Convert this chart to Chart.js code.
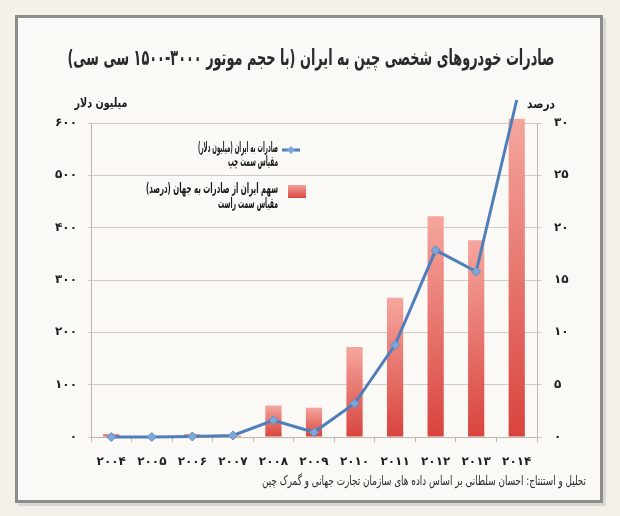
<!DOCTYPE html>
<html><head><meta charset="utf-8">
<script src="https://cdn.jsdelivr.net/npm/chart.js@4.4.0/dist/chart.umd.min.js"></script>
<style>html,body{margin:0;padding:0;background:#f4f1eb;overflow:hidden}#wrap{width:620px;height:516px;position:relative}</style>
</head><body><div id="wrap"><canvas id="c" width="620" height="516"></canvas></div>
<script>
const years = ['2004','2005','2006','2007','2008','2009','2010','2011','2012','2013','2014'];
const exportsMusd = [0, 0, 1, 3, 32, 9, 64, 176, 357, 316, 644];
const sharePct = [0.3, 0.1, 0.3, 0.15, 3.0, 2.8, 8.6, 13.3, 21.1, 18.8, 30.4];
const leftTicks = [0, 100, 200, 300, 400, 500, 600];
const rightTicks = [0, 5, 10, 15, 20, 25, 30];
const titleText = 'صادرات خودروهای شخصی چین به ایران (با حجم موتور ۳۰۰۰-۱۵۰۰ سی سی)';
const leftAxisTitle = 'میلیون دلار';
const rightAxisTitle = 'درصد';
const legendLine = ['صادرات به ایران (میلیون دلار)', 'مقیاس سمت چپ'];
const legendBar = ['سهم ایران از صادرات به جهان (درصد)', 'مقیاس سمت راست'];
const footerText = 'تحلیل و استنتاج: احسان سلطانی بر اساس داده های سازمان تجارت جهانی و گمرک چین';

const FONT = '"DejaVu Sans", sans-serif';
const fa = s => String(s).replace(/\d/g, d => '۰۱۲۳۴۵۶۷۸۹'[d]);
const LINE_COLOR = '#4f7fbb';

// draw RTL text squeezed horizontally to a target width
function fitText(c, text, x, y, width, font, align) {
  c.save();
  c.font = font;
  c.direction = 'rtl';
  c.textAlign = align;
  c.textBaseline = 'middle';
  const w = c.measureText(text).width;
  const sx = Math.min(1, width / w);
  c.translate(x, y);
  c.scale(sx, 1);
  c.fillText(text, 0, 0);
  c.restore();
}

const framePlugin = {
  id: 'frame',
  beforeDraw(chart) {
    const c = chart.ctx;
    c.save();
    c.fillStyle = '#f4f1eb';
    c.fillRect(0, 0, chart.width, chart.height);
    c.fillStyle = 'rgba(0,0,0,0.10)';
    c.fillRect(18, 18, 588, 488);
    c.fillStyle = '#fbf9f5';
    c.fillRect(15, 15, 588, 488);
    c.strokeStyle = '#8d8d8d';
    c.lineWidth = 3;
    c.strokeRect(16.5, 16.5, 585, 485);
    c.restore();
  },
  afterDraw(chart) {
    const c = chart.ctx;
    c.save();
    c.fillStyle = '#2b2b2b';
    fitText(c, titleText, 311, 59, 487, 'bold 22px ' + FONT, 'center');
    c.fillStyle = '#1a1a1a';
    fitText(c, leftAxisTitle, 101, 104, 53, 'bold 13px ' + FONT, 'center');
    fitText(c, rightAxisTitle, 541, 105, 28, 'bold 13px ' + FONT, 'center');
    // legend texts
    fitText(c, legendLine[0], 278, 148, 80, 'bold 14px ' + FONT, 'right');
    fitText(c, legendLine[1], 278, 162, 50, 'bold 14px ' + FONT, 'right');
    fitText(c, legendBar[0], 278, 189, 132, 'bold 14px ' + FONT, 'right');
    fitText(c, legendBar[1], 278, 204, 60, 'bold 14px ' + FONT, 'right');
    // legend symbols
    c.strokeStyle = LINE_COLOR;
    c.lineWidth = 3;
    c.beginPath(); c.moveTo(282, 150); c.lineTo(300, 150); c.stroke();
    c.fillStyle = '#7ea7d8';
    c.beginPath(); c.moveTo(291, 146); c.lineTo(295, 150); c.lineTo(291, 154); c.lineTo(287, 150); c.closePath(); c.fill();
    const g = c.createLinearGradient(0, 185, 0, 198);
    g.addColorStop(0, '#f3a29b'); g.addColorStop(1, '#d9463f');
    c.fillStyle = g;
    c.fillRect(288, 185, 18, 13);
    // footer
    c.fillStyle = '#2b2b2b';
    fitText(c, footerText, 586, 482, 324, '13px ' + FONT, 'right');
    c.restore();
  }
};

function barGradient(ctx) {
  const chart = ctx.chart;
  const s = chart.scales && chart.scales.y2;
  if (!chart.chartArea || !s || ctx.type !== 'data') return '#e0544d';
  const top = s.getPixelForValue(ctx.raw);
  const bottom = s.getPixelForValue(0);
  const g = chart.ctx.createLinearGradient(0, Math.min(top, bottom - 1), 0, bottom);
  g.addColorStop(0, '#f5a69e');
  g.addColorStop(1, '#d8443d');
  return g;
}

new Chart(document.getElementById('c'), {
  type: 'bar',
  data: {
    labels: years,
    datasets: [
      {
        type: 'line', label: legendLine[0], data: exportsMusd, yAxisID: 'y', order: 0,
        borderColor: LINE_COLOR, borderWidth: 3, tension: 0, clip: false,
        pointStyle: 'rectRot', pointRadius: 4.5, pointBackgroundColor: '#7ea7d8',
        pointBorderColor: '#5f8fc8', pointBorderWidth: 1
      },
      {
        type: 'bar', label: legendBar[0], data: sharePct, yAxisID: 'y2', order: 1,
        backgroundColor: barGradient, barPercentage: 0.4, categoryPercentage: 1, clip: false
      }
    ]
  },
  plugins: [framePlugin],
  options: {
    responsive: false, animation: false, devicePixelRatio: 1,
    layout: { padding: { top: 123, left: 0, right: 0, bottom: 0 } },
    plugins: { legend: { display: false }, title: { display: false }, tooltip: { enabled: false } },
    scales: {
      x: {
        offset: true,
        grid: { offset: true, drawOnChartArea: false, drawTicks: true, tickLength: 5, color: '#bdb7ae' },
        border: { color: '#bdb7ae' },
        ticks: { padding: 13, color: '#1f1f1f', font: { family: FONT, size: 12, weight: 'bold' }, callback: (v, i) => fa(years[i]) },
        afterFit(s) { s.height = 79; }
      },
      y: {
        position: 'left', min: 0, max: 600,
        afterBuildTicks(s) { s.ticks = leftTicks.map(v => ({ value: v })); },
        grid: { color: '#d2ccc4', tickLength: 3 },
        border: { color: '#bdb7ae' },
        ticks: { padding: 11, color: '#1f1f1f', font: { family: FONT, size: 12, weight: 'bold' }, callback: v => fa(v) },
        afterFit(s) { s.width = 91; }
      },
      y2: {
        position: 'right', min: 0, max: 30,
        afterBuildTicks(s) { s.ticks = rightTicks.map(v => ({ value: v })); },
        grid: { drawOnChartArea: false, color: '#d2ccc4', tickLength: 5 },
        border: { color: '#bdb7ae' },
        ticks: { padding: 12, color: '#1f1f1f', font: { family: FONT, size: 12, weight: 'bold' }, callback: v => fa(v) },
        afterFit(s) { s.width = 83; }
      }
    }
  }
});
</script>
</body></html>
